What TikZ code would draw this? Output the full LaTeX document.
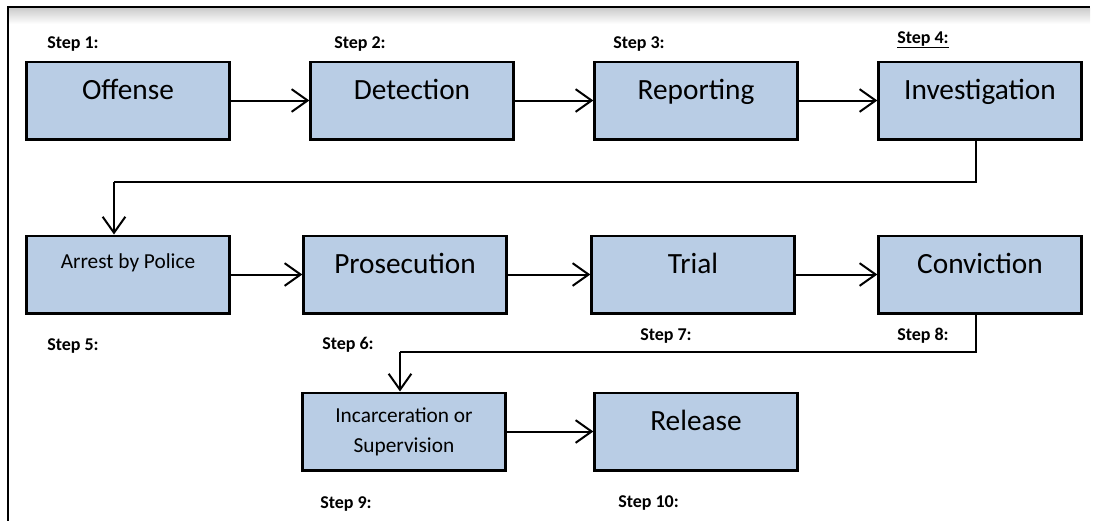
\documentclass[tikz,border=0pt]{standalone}
\usepackage{fontspec}
\setmainfont{Carlito}
\usepackage{tikz}
\usetikzlibrary{arrows.meta}
\definecolor{boxblue}{HTML}{B9CDE5}
\tikzset{
  box/.style={draw, line width=2pt, fill=boxblue, minimum width=152pt, minimum height=58pt,
    inner sep=0pt, font=\fontsize{22}{26}\selectfont, text height=15pt, text depth=16.5pt},
  smallbox/.style={box, font=\fontsize{16}{22.5}\selectfont},
  steplabel/.style={anchor=base west, inner sep=0pt, font=\fontsize{13.5}{16}\selectfont\bfseries},
  flow/.style={line width=1.5pt, -{Straight Barb[length=12pt,width=17pt]}},
  link/.style={line width=1.5pt}
}
\begin{document}
\begin{tikzpicture}[x=0.75pt,y=-0.75pt]
\useasboundingbox (0,0) rectangle (1097,521);
% frame
\shade[top color=black!20, bottom color=white] (9,8) rectangle (1090,24);
\draw[line width=1.5pt] (8,521) -- (8,7) -- (1090,7);
%
\node[box] (offense) at (128,100.5) {Offense};
\node[box] (detection) at (412,100.5) {Detection};
\node[box] (reporting) at (696,100.5) {Reporting};
\node[box] (investigation) at (980,100.5) {Investigation};
%
\node[smallbox, text height=10pt, text depth=19.75pt] (arrest) at (128,274.5) {Arrest by Police};
\node[box] (prosecution) at (405,274.5) {Prosecution};
\node[box] (trial) at (693,274.5) {Trial};
\node[box] (conviction) at (980,274.5) {Conviction};
%
\node[smallbox, text height=, text depth=, align=center] (incarceration) at (404,431.5) {Incarceration or\\Supervision};
\node[box] (release) at (696,431.5) {Release};
%
\node[steplabel] (s1) at (47,48) {Step 1:};
\node[steplabel] (s2) at (334,48) {Step 2:};
\node[steplabel] (s3) at (613,48) {Step 3:};
\node[steplabel] (s4) at (897,43) {\underline{Step 4:}};
\node[steplabel] (s5) at (47,350) {Step 5:};
\node[steplabel] (s6) at (322,349) {Step 6:};
\node[steplabel] (s7) at (640,340) {Step 7:};
\node[steplabel] (s8) at (897,340) {Step 8:};
\node[steplabel] (s9) at (320,508) {Step 9:};
\node[steplabel] (s10) at (618,507) {Step 10:};
%
\foreach \Source/\Target in {%
	offense/detection,
	detection/reporting,
	reporting/investigation,
	arrest/prosecution,
	prosecution/trial,
	trial/conviction,
	incarceration/release%
    }
\draw[flow] (\Source.east) -- (\Target.west);
%
\coordinate (bend1) at (114,182);
\coordinate (bend2) at (400,352);
\draw[link] ([xshift=-3pt]investigation.south) |- (bend1);
\draw[flow] (bend1) -- (bend1 |- arrest.north);
\draw[link] ([xshift=-3pt]conviction.south) |- (bend2);
\draw[flow] (bend2) -- (bend2 |- incarceration.north);
\end{tikzpicture}
\end{document}
